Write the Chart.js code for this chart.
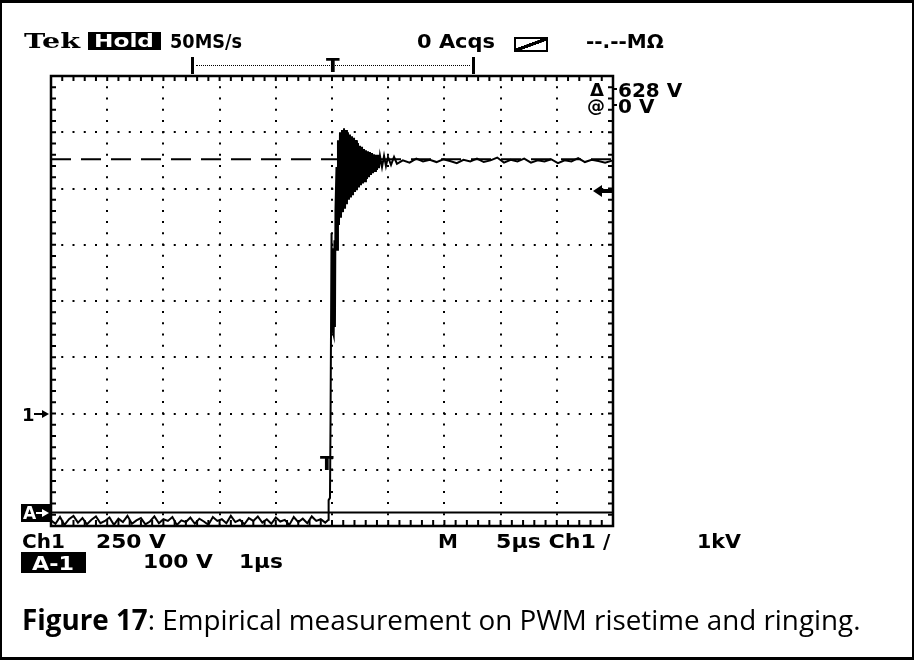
<!DOCTYPE html>
<html>
<head>
<meta charset="utf-8">
<script src="https://cdn.jsdelivr.net/npm/chart.js@4.4.0/dist/chart.umd.min.js"></script>
<style>
  html, body { margin: 0; padding: 0; background: #fff; }
  #page { position: relative; width: 914px; height: 660px; overflow: hidden; background: #fff; }
  #frame { position: absolute; left: 0; top: 0; width: 914px; height: 660px; box-sizing: border-box;
           border-style: solid; border-color: #000; border-width: 3px 2px 3px 2px; pointer-events: none; }
  #scope { position: absolute; left: 0; top: 0; }
  .t { position: absolute; font-family: "DejaVu Sans", sans-serif;
       font-weight: bold; font-size: 20px; line-height: 20px; color: #000; white-space: pre;
       transform-origin: 0 0; }
  .serif { font-family: "DejaVu Serif", serif; }
  .box { position: absolute; background: #000; }
  .inv { position: absolute; background: #000; color: #fff; font-family: "DejaVu Sans", sans-serif;
         font-weight: bold; white-space: pre; overflow: hidden; }
  .inv span { position: absolute; display: block; transform-origin: 0 0; }
  .cap { position: absolute; left: 22px; top: 600px; font-family: "Open Sans", sans-serif;
         font-size: 27.8px; line-height: 38px; color: #000; white-space: pre; }
  .cap b { font-weight: bold; }
  #icon { position: absolute; left: 514px; top: 37px; width: 34px; height: 15px; box-sizing: border-box;
          border: 2px solid #000;
          background: linear-gradient(to bottom right, transparent 42%, #000 43%, #000 58%, transparent 59%); }
  #record { position: absolute; left: 191px; top: 57px; width: 284px; height: 17px; box-sizing: border-box;
            border-left: 3px solid #000; border-right: 3px solid #000; }
  #record::before { content: ""; position: absolute; left: 2px; right: 2px; top: 8px; border-top: 1px dotted #000; }
  .head-l { position: absolute; width: 0; height: 0; border-top: 6px solid transparent;
            border-bottom: 6px solid transparent; border-right: 9px solid #000; }
  .head-r { position: absolute; width: 0; height: 0; border-top: 4px solid transparent;
            border-bottom: 4px solid transparent; border-left: 7px solid #000; }
</style>
</head>
<body>
<div id="page">
  <canvas id="scope" width="914" height="660"></canvas>

  <!-- status line -->
  <div class="t serif" data-w="56" style="left:24px;top:31px;">Tek</div>
  <div class="inv" style="left:88px;top:32px;width:73px;height:18px;"><span data-w="60" style="left:6px;top:0;font-size:17px;line-height:19px;">Hold</span></div>
  <div class="t" data-w="72" style="left:170px;top:31px;">50MS/s</div>
  <div class="t" data-w="78" style="left:417px;top:31px;">0 Acqs</div>
  <div id="icon"></div>
  <div class="t" style="left:586px;top:31px;">--.--MΩ</div>

  <!-- record view bracket with trigger position -->
  <div id="record"></div>
  <div class="t" style="left:326px;top:55px;">T</div>

  <!-- cursor readouts -->
  <div class="t" style="left:590px;top:80px;font-size:18px;">Δ</div>
  <div class="box" style="left:613px;top:88px;width:4px;height:2px;"></div>
  <div class="t" style="left:618px;top:80px;">628 V</div>
  <div class="t" style="left:587px;top:96px;font-size:18px;">@</div>
  <div class="box" style="left:613px;top:104px;width:4px;height:2px;"></div>
  <div class="t" style="left:618px;top:96px;">0 V</div>

  <!-- level markers -->
  <div class="head-l" style="left:593px;top:185px;"></div>
  <div class="box" style="left:601px;top:189px;width:11px;height:4px;"></div>
  <div class="t" style="left:22px;top:405px;font-size:18px;">1</div>
  <div class="box" style="left:34px;top:413px;width:8px;height:2px;"></div>
  <div class="head-r" style="left:42px;top:410px;"></div>
  <div class="inv" style="left:21px;top:504px;width:30px;height:18px;"><span style="left:2px;top:0;font-size:17px;line-height:19px;">A</span></div>
  <div class="box" style="left:36px;top:512px;width:7px;height:2px;background:#fff;"></div>
  <div class="head-r" style="left:42px;top:509px;border-left-color:#fff;"></div>
  <div class="t" style="left:320px;top:453px;">T</div>

  <!-- settings line -->
  <div class="t" style="left:22px;top:531px;">Ch1</div>
  <div class="t" data-w="70" style="left:96px;top:531px;">250 V</div>
  <div class="t" style="left:438px;top:531px;">M</div>
  <div class="t" data-w="100" style="left:496px;top:531px;">5µs Ch1</div>
  <div class="t" style="left:603px;top:531px;">/</div>
  <div class="t" data-w="44" style="left:697px;top:531px;">1kV</div>
  <div class="inv" style="left:21px;top:552px;width:65px;height:21px;"><span data-w="42" style="left:11px;top:1px;font-size:19px;line-height:20px;">A-1</span></div>
  <div class="t" data-w="70" style="left:143px;top:551px;">100 V</div>
  <div class="t" data-w="44" style="left:239px;top:551px;">1µs</div>

  <div class="cap"><b>Figure 17</b>: Empirical measurement on PWM risetime and ringing.</div>
  <div id="frame"></div>
</div>

<script>
// Horizontal axis: time in microseconds, 5 µs per division, 10 divisions.
const timeDivisions = [0, 5, 10, 15, 20, 25, 30, 35, 40, 45, 50];
// Vertical axis: volts, 100 V per division (A-1), 8 divisions.
const voltDivisions = [-24, 76, 176, 276, 376, 476, 576, 676, 776];

// Cursor levels (V)
const cursorLow = 0;
const cursorHigh = 628;

// Acquired trace: time (µs) and voltage (V)
const traceTime = [
  0, 0.4, 0.8, 1.2, 1.6, 2, 2.4, 2.8, 3.2, 3.6, 4, 4.4, 4.8, 5.2, 5.6, 6, 6.4, 6.8, 7.2, 7.6,
  8, 8.4, 8.8, 9.2, 9.6, 10, 10.4, 10.8, 11.2, 11.6, 12, 12.4, 12.8, 13.2, 13.6, 14, 14.4, 14.8, 15.2, 15.6,
  16, 16.4, 16.8, 17.2, 17.6, 18, 18.4, 18.8, 19.2, 19.6, 20, 20.4, 20.8, 21.2, 21.6, 22, 22.4, 22.8, 23.2, 23.6,
  24, 24.4, 24.69,
  24.70, 24.82, 24.87, 24.96, 25.00, 25.04, 25.09, 25.13, 25.17, 25.22, 25.26, 25.31, 25.40, 25.46, 25.53, 25.62,
  25.71, 25.80, 25.89, 25.98, 26.07, 26.16, 26.25, 26.33, 26.42, 26.51, 26.60, 26.69,
  26.78, 26.87, 26.96, 27.05, 27.14, 27.22, 27.31, 27.40, 27.49, 27.58, 27.67, 27.76,
  27.85, 27.94, 28.02, 28.11, 28.20, 28.29, 28.38, 28.47, 28.56, 28.65, 28.74, 28.83,
  28.91, 29.00, 29.09, 29.18, 29.27, 29.45, 29.63, 29.80, 29.98, 30.25, 30.52, 30.78,
  31.3, 31.9, 32.5, 33.1, 33.7, 34.3, 34.9, 35.5, 36.1, 36.7, 37.3, 37.9, 38.5, 39.1, 39.7,
  40.3, 40.9, 41.5, 42.1, 42.7, 43.3, 43.9, 44.5, 45.1, 45.7, 46.3, 46.9, 47.5, 48.1, 48.7, 49.3, 50
];
const traceVolts = [
  -14, -20, -8, -22, -12, -6, -18, -10, -21, -13, -7, -19, -15, -9, -22, -11, -17, -6, -20, -14,
  -10, -21, -16, -7, -19, -12, -15, -8, -22, -14, -17, -9, -20, -11, -16, -22, -8, -15, -12, -19,
  -6, -17, -13, -21, -10, -15, -7, -18, -12, -20, -9, -16, -13, -22, -8, -17, -11, -19, -7, -15,
  -12, -18, -13,
  22, 26, 165, 497, 330, 470, 320, 460, 315, 484, 330, 538, 614, 467, 662, 511,
  676, 524, 680, 534, 683, 540, 680, 548, 676, 556, 672, 560,
  669, 564, 666, 570, 662, 573, 657, 578, 652, 582, 650, 585,
  646, 589, 644, 593, 642, 596, 641, 600, 639, 603, 637, 607,
  636, 609, 636, 612, 634, 614, 634, 616, 632, 618, 632, 620,
  626, 622, 629, 624, 627, 623, 628, 625, 621, 627, 624, 629, 623, 626, 631,
  622, 627, 624, 629, 622, 626, 624, 628, 621, 626, 624, 630, 623, 627, 625, 622, 626
];

const tMin = timeDivisions[0], tMax = timeDivisions[timeDivisions.length - 1];
const vMin = voltDivisions[0], vMax = voltDivisions[voltDivisions.length - 1];

const tracePoints = traceTime.map((t, i) => ({ x: t, y: traceVolts[i] }));

// Stretch readout labels to their field widths
function fitLabels() {
  document.querySelectorAll('[data-w]').forEach(el => {
    el.style.transform = 'none';
    const w = el.getBoundingClientRect().width;
    if (w > 0) el.style.transform = 'scaleX(' + (parseFloat(el.dataset.w) / w) + ')';
  });
}
if (document.fonts && document.fonts.ready) document.fonts.ready.then(fitLabels);
fitLabels();

// Graticule frame with minor ticks every 1/5 division along all four edges
const graticule = {
  id: 'graticule',
  afterDatasetsDraw(chart) {
    const { ctx, chartArea: a, scales } = chart;
    const xs = scales.x, ys = scales.y;
    ctx.save();
    ctx.strokeStyle = '#000';
    ctx.lineWidth = 2;
    ctx.beginPath();
    const tStep = (timeDivisions[1] - timeDivisions[0]) / 5;
    for (let t = tMin + tStep; t < tMax - 1e-6; t += tStep) {
      const px = xs.getPixelForValue(t);
      ctx.moveTo(px, a.top); ctx.lineTo(px, a.top + 5);
      ctx.moveTo(px, a.bottom); ctx.lineTo(px, a.bottom - 6);
    }
    const vStep = (voltDivisions[1] - voltDivisions[0]) / 5;
    for (let v = vMin + vStep; v < vMax - 1e-6; v += vStep) {
      const py = ys.getPixelForValue(v);
      ctx.moveTo(a.left, py); ctx.lineTo(a.left + 5, py);
      ctx.moveTo(a.right, py); ctx.lineTo(a.right - 5, py);
    }
    ctx.stroke();
    ctx.lineWidth = 2.5;
    ctx.strokeRect(a.left, a.top, a.right - a.left, a.bottom - a.top);
    ctx.restore();
  }
};

new Chart(document.getElementById('scope'), {
  type: 'line',
  data: {
    datasets: [
      {
        label: 'A-1',
        data: tracePoints,
        borderColor: '#000',
        borderWidth: 2,
        pointRadius: 0,
        tension: 0,
        clip: 2
      },
      {
        label: 'cursor high',
        data: [{ x: tMin, y: cursorHigh }, { x: tMax, y: cursorHigh }],
        borderColor: '#000',
        borderWidth: 2,
        borderDash: [20, 10],
        pointRadius: 0
      },
      {
        label: 'cursor low',
        data: [{ x: tMin, y: cursorLow }, { x: tMax, y: cursorLow }],
        borderColor: '#000',
        borderWidth: 2,
        pointRadius: 0
      }
    ]
  },
  options: {
    responsive: false,
    animation: false,
    events: [],
    layout: { padding: { left: 51, top: 76, right: 301, bottom: 134 } },
    plugins: { legend: { display: false }, tooltip: { enabled: false } },
    scales: {
      x: {
        type: 'linear',
        min: tMin, max: tMax,
        afterBuildTicks: s => { s.ticks = timeDivisions.map(v => ({ value: v })); },
        ticks: { display: false },
        grid: { color: '#000', lineWidth: 2, drawTicks: false },
        border: { display: false, dash: [2, 9.24], dashOffset: 1 }
      },
      y: {
        type: 'linear',
        min: vMin, max: vMax,
        afterBuildTicks: s => { s.ticks = voltDivisions.map(v => ({ value: v })); },
        ticks: { display: false },
        grid: { color: '#000', lineWidth: 2, drawTicks: false },
        border: { display: false, dash: [2, 9.25], dashOffset: 1 }
      }
    }
  },
  plugins: [graticule]
});
</script>
</body>
</html>
